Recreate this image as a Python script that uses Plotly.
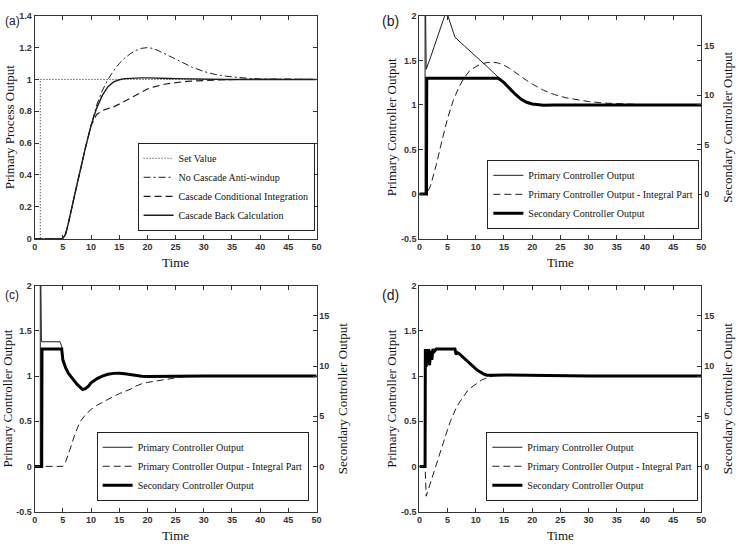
import plotly.graph_objects as go

# ---------------- data ----------------
# Panel (a): primary process output
a_time = [0, 1, 2, 3, 4, 5, 5.5, 6, 7, 8, 9, 10, 11, 12, 13, 14, 15, 16, 17, 18, 19, 20,
          21, 22, 23, 24, 25, 26, 27, 28, 30, 32, 34, 36, 38, 40, 45, 50]
a_backcalc = [0, 0, 0, 0, 0, 0, 0.03, 0.1, 0.26, 0.42, 0.57, 0.71, 0.82, 0.9, 0.955, 0.985,
              0.998, 1.005, 1.008, 1.01, 1.01, 1.01, 1.01, 1.01, 1.008, 1.006, 1.005, 1.004,
              1.003, 1.002, 1.001, 1.0, 1.0, 1.0, 1.0, 1.0, 1.0, 1.0]
a_nocascade = [0, 0, 0, 0, 0, 0, 0.03, 0.1, 0.26, 0.42, 0.57, 0.71, 0.84, 0.93, 1.0, 1.055,
               1.1, 1.135, 1.163, 1.183, 1.196, 1.2, 1.195, 1.18, 1.163, 1.145, 1.128, 1.11,
               1.092, 1.076, 1.05, 1.032, 1.02, 1.012, 1.007, 1.004, 1.001, 1.0]
a_condint = [0, 0, 0, 0, 0, 0, 0.03, 0.1, 0.26, 0.42, 0.57, 0.71, 0.78, 0.805, 0.815, 0.828,
             0.845, 0.865, 0.885, 0.905, 0.924, 0.94, 0.952, 0.962, 0.97, 0.976, 0.981, 0.985,
             0.988, 0.99, 0.994, 0.997, 0.999, 1.0, 1.0, 1.0, 1.0, 1.0]
a_set_time = [0, 1, 1, 50]
a_set = [0, 0, 1, 1]

# Panel (b)
b_prim_time = [0, 1.0, 1.0, 1.15, 1.2, 2, 3, 4, 4.5, 4.75, 5.05, 6.3, 8, 10, 12, 14, 15, 16,
               17, 18, 19, 20, 21, 22, 25, 30, 40, 50]
b_prim = [0, 0, 2.6, 1.42, 1.40, 1.54, 1.72, 1.9, 1.99, 2.05, 2.0, 1.76, 1.66, 1.55, 1.43,
          1.31, 1.25, 1.18, 1.12, 1.065, 1.03, 1.01, 1.0, 0.997, 1.0, 1.0, 1.0, 1.0]
b_int_time = [0, 1.3, 2, 3, 4, 5, 6, 7, 8, 9, 10, 11, 12, 13, 14, 15, 16, 17, 18, 19, 20,
              22, 24, 26, 28, 30, 33, 36, 40, 50]
b_int = [0, 0, 0.1, 0.33, 0.6, 0.85, 1.05, 1.2, 1.31, 1.39, 1.43, 1.46, 1.475, 1.48, 1.47,
         1.445, 1.41, 1.37, 1.32, 1.275, 1.235, 1.165, 1.115, 1.08, 1.055, 1.038, 1.02,
         1.01, 1.003, 1.0]
b_sec_time = [0, 1.25, 1.3, 14, 15, 16, 17, 18, 19, 20, 21, 22, 24, 26, 30, 50]
b_sec = [0, 0, 11.7, 11.7, 11.25, 10.62, 10.08, 9.585, 9.27, 9.09, 9.0, 8.97, 9.0, 9.02,
         9.0, 9.0]

# Panel (c)
c_prim_time = [0, 1.0, 1.0, 1.15, 1.2, 4.5, 4.8, 5, 5.5, 6, 6.5, 7, 7.5, 8, 8.5, 9, 9.5,
               10, 11, 12, 13, 14, 15, 16, 17, 18, 19, 20, 22, 25, 30, 50]
c_prim = [0, 0, 2.6, 1.39, 1.38, 1.38, 1.33, 1.18, 1.09, 1.03, 0.985, 0.95, 0.91, 0.88,
          0.855, 0.86, 0.885, 0.925, 0.97, 1.0, 1.02, 1.03, 1.032, 1.025, 1.015, 1.005,
          0.998, 0.995, 0.997, 1.0, 1.0, 1.0]
c_int_time = [0, 5, 5.5, 6, 6.5, 7, 7.5, 8, 9, 10, 11, 12, 13, 14, 15, 16, 17, 18, 19, 20,
              21, 22, 23, 24, 25, 26, 27, 28, 30, 50]
c_int = [0, 0, 0.05, 0.13, 0.23, 0.33, 0.42, 0.49, 0.57, 0.63, 0.675, 0.71, 0.745, 0.775,
         0.805, 0.83, 0.855, 0.89, 0.915, 0.93, 0.94, 0.953, 0.965, 0.976, 0.984, 0.99,
         0.995, 0.998, 1.0, 1.0]
c_sec_time = [0, 1.25, 1.3, 4.8, 5, 5.5, 6, 6.5, 7, 7.5, 8, 8.5, 9, 9.5, 10, 11, 12, 13,
              14, 15, 16, 17, 18, 19, 20, 22, 25, 30, 50]
c_sec = [0, 0, 11.7, 11.7, 10.62, 9.81, 9.27, 8.865, 8.55, 8.19, 7.92, 7.65, 7.74, 7.965,
         8.325, 8.73, 9.0, 9.18, 9.27, 9.288, 9.225, 9.135, 9.045, 8.982, 8.955, 8.973,
         9.0, 9.0, 9.0]

# Panel (d)
d_prim_time = [0, 1.0, 1.05, 1.2, 1.35, 1.5, 1.65, 1.8, 2.0, 2.2, 2.4, 2.6, 3, 4, 5, 6,
               6.3, 6.5, 6.7, 7, 7.5, 8, 8.5, 9, 9.5, 10, 10.5, 11, 11.5, 12, 12.5, 13,
               15, 18, 20, 25, 30, 50]
d_prim = [0, 0, 1.3, 1.1, 1.3, 1.15, 1.3, 1.12, 1.28, 1.18, 1.3, 1.27, 1.3, 1.3, 1.3, 1.3,
          1.3, 1.24, 1.26, 1.25, 1.22, 1.19, 1.165, 1.135, 1.105, 1.08, 1.055, 1.035,
          1.02, 1.01, 1.005, 1.008, 1.013, 1.01, 1.005, 1.0, 1.0, 1.0]
d_int_time = [0, 1.0, 1.2, 1.5, 2, 2.5, 3, 3.5, 4, 4.5, 5, 5.5, 6, 6.5, 7, 7.5, 8, 8.5, 9,
              9.5, 10, 10.5, 11, 11.5, 12, 12.5, 13, 14, 15, 17, 20, 25, 30, 50]
d_int = [0, 0, -0.33, -0.27, -0.17, -0.07, 0.03, 0.13, 0.23, 0.32, 0.41, 0.5, 0.58, 0.645,
         0.7, 0.75, 0.8, 0.835, 0.865, 0.89, 0.915, 0.935, 0.955, 0.97, 0.982, 0.992, 1.0,
         1.008, 1.012, 1.012, 1.006, 1.0, 1.0, 1.0]
d_sec_time = d_prim_time
d_sec = [0, 0, 11.7, 9.9, 11.7, 10.35, 11.7, 10.08, 11.52, 10.62, 11.7, 11.43, 11.7, 11.7,
         11.7, 11.7, 11.7, 11.16, 11.34, 11.25, 10.98, 10.71, 10.485, 10.215, 9.945, 9.72,
         9.495, 9.315, 9.18, 9.09, 9.045, 9.072, 9.117, 9.09, 9.045, 9.0, 9.0, 9.0]

# tick labels
x_ticks = [0, 5, 10, 15, 20, 25, 30, 35, 40, 45, 50]
x_ticktext = ["0", "5", "10", "15", "20", "25", "30", "35", "40", "45", "50"]
a_yticks = [0, 0.2, 0.4, 0.6, 0.8, 1.0, 1.2, 1.4]
a_yticktext = ["0", "0.2", "0.4", "0.6", "0.8", "1", "1.2", "1.4"]
p_yticks = [-0.5, 0, 0.5, 1, 1.5, 2]
p_yticktext = ["-0.5", "0", "0.5", "1", "1.5", "2"]
s_yticks = [0, 5, 10, 15]
s_yticktext = ["0", "5", "10", "15"]

# ---------------- figure ----------------
W, H = 736, 546
def px(x):
    return x / W
def py(y):
    return 1 - y / H

fig = go.Figure()
LC = "#1e1e1e"
THIN = dict(color=LC, width=1)
SERIF = "Liberation Serif, Times New Roman, serif"
SANS = "Liberation Sans, Arial, sans-serif"
DASH = "7px,4px"

# (a)
fig.add_trace(go.Scatter(x=a_set_time, y=a_set, mode="lines", name="Set Value",
                         line=dict(color=LC, width=1, dash="1px,2px"),
                         xaxis="x", yaxis="y", legend="legend"))
fig.add_trace(go.Scatter(x=a_time, y=a_nocascade, mode="lines", name="No Cascade Anti-windup",
                         line=dict(color=LC, width=1, dash="7px,3px,2px,3px"),
                         xaxis="x", yaxis="y", legend="legend"))
fig.add_trace(go.Scatter(x=a_time, y=a_condint, mode="lines",
                         name="Cascade Conditional Integration",
                         line=dict(color=LC, width=1.2, dash=DASH),
                         xaxis="x", yaxis="y", legend="legend"))
fig.add_trace(go.Scatter(x=a_time, y=a_backcalc, mode="lines", name="Cascade Back Calculation",
                         line=dict(color=LC, width=1.4),
                         xaxis="x", yaxis="y", legend="legend"))

panels = [
    ("x2", "y2", "y3", "legend2", b_prim_time, b_prim, b_int_time, b_int, b_sec_time, b_sec),
    ("x3", "y4", "y5", "legend3", c_prim_time, c_prim, c_int_time, c_int, c_sec_time, c_sec),
    ("x4", "y6", "y7", "legend4", d_prim_time, d_prim, d_int_time, d_int, d_sec_time, d_sec),
]
for xa, ya, yr, lg, pt, pv, it, iv, st, sv in panels:
    fig.add_trace(go.Scatter(x=pt, y=pv, mode="lines", name="Primary Controller Output",
                             line=THIN, xaxis=xa, yaxis=ya, legend=lg))
    fig.add_trace(go.Scatter(x=it, y=iv, mode="lines",
                             name="Primary Controller Output - Integral Part",
                             line=dict(color=LC, width=1, dash=DASH),
                             xaxis=xa, yaxis=ya, legend=lg))
    fig.add_trace(go.Scatter(x=st, y=sv, mode="lines", name="Secondary Controller Output",
                             line=dict(color="#000000", width=3),
                             xaxis=xa, yaxis=yr, legend=lg))

tickfont = dict(family=SANS, size=9, color="#333333", weight="bold")
common_x = dict(range=[0, 50], tickvals=x_ticks, ticktext=x_ticktext, ticks="inside",
                ticklen=4, tickcolor="#333", showline=True, linecolor="#333", linewidth=1,
                mirror="ticks", showgrid=False, zeroline=False, tickfont=tickfont,
                title=dict(text="Time", font=dict(family=SERIF, size=13, color="#111"),
                           standoff=6))
common_y = dict(ticks="inside", ticklen=4, tickcolor="#333", showline=True, linecolor="#333",
                linewidth=1, mirror="ticks", showgrid=False, zeroline=False,
                tickfont=tickfont)
right_y = dict(range=[-4.5, 18], tickvals=s_yticks, ticktext=s_yticktext, ticks="inside",
               ticklen=4, tickcolor="#333", showline=True, linecolor="#333", side="right",
               showgrid=False, zeroline=False, tickfont=tickfont,
               title=dict(text="Secondary Controller Output",
                          font=dict(family=SERIF, size=13, color="#111"), standoff=9))

left_dom = [px(32), px(317)]
right_dom = [px(421), px(706)]
top_dom = [py(238), py(11)]
bot_dom = [py(516), py(286)]

ptitle = dict(text="Primary Controller Output", font=dict(family=SERIF, size=13, color="#111"),
              standoff=1)

fig.update_layout(
    width=W, height=H, autosize=False,
    margin=dict(l=0, r=0, t=0, b=0),
    paper_bgcolor="white", plot_bgcolor="white",
    xaxis=dict(domain=left_dom, anchor="y", **common_x),
    yaxis=dict(domain=top_dom, anchor="x", range=[0, 1.4], tickvals=a_yticks,
               ticktext=a_yticktext,
               title=dict(text="Primary Process Output",
                          font=dict(family=SERIF, size=13, color="#111"), standoff=1),
               **common_y),
    xaxis2=dict(domain=right_dom, anchor="y2", **common_x),
    yaxis2=dict(domain=top_dom, anchor="x2", range=[-0.5, 2], tickvals=p_yticks,
                ticktext=p_yticktext, title=ptitle, **common_y),
    yaxis3=dict(overlaying="y2", anchor="x2", **right_y),
    xaxis3=dict(domain=left_dom, anchor="y4", **common_x),
    yaxis4=dict(domain=bot_dom, anchor="x3", range=[-0.5, 2], tickvals=p_yticks,
                ticktext=p_yticktext, title=ptitle, **common_y),
    yaxis5=dict(overlaying="y4", anchor="x3", **right_y),
    xaxis4=dict(domain=right_dom, anchor="y6", **common_x),
    yaxis6=dict(domain=bot_dom, anchor="x4", range=[-0.5, 2], tickvals=p_yticks,
                ticktext=p_yticktext, title=ptitle, **common_y),
    yaxis7=dict(overlaying="y6", anchor="x4", **right_y),
)

leg_common = dict(bgcolor="white", bordercolor="#222", borderwidth=1,
                  font=dict(family=SERIF, size=10, color="#111"),
                  xanchor="right", yanchor="bottom", tracegroupgap=0, itemwidth=30)
fig.update_layout(
    legend=dict(x=px(315), y=py(230), **leg_common),
    legend2=dict(x=px(704), y=py(228), **leg_common),
    legend3=dict(x=px(309), y=py(505), **leg_common),
    legend4=dict(x=px(703), y=py(505), **leg_common),
)

labels = [("(a)", 0, 16, "left", 12), ("(b)", 402, 16, "right", 14),
          ("(c)", 0, 295, "left", 12), ("(d)", 402, 295, "right", 14)]
for txt, xr, yc, anc, fs in labels:
    fig.add_annotation(text=txt, x=px(xr), y=py(yc), xref="paper", yref="paper",
                       xanchor=anc, yanchor="middle", showarrow=False,
                       font=dict(family=SANS, size=fs, color="#222"))

fig.write_html("out.html")
